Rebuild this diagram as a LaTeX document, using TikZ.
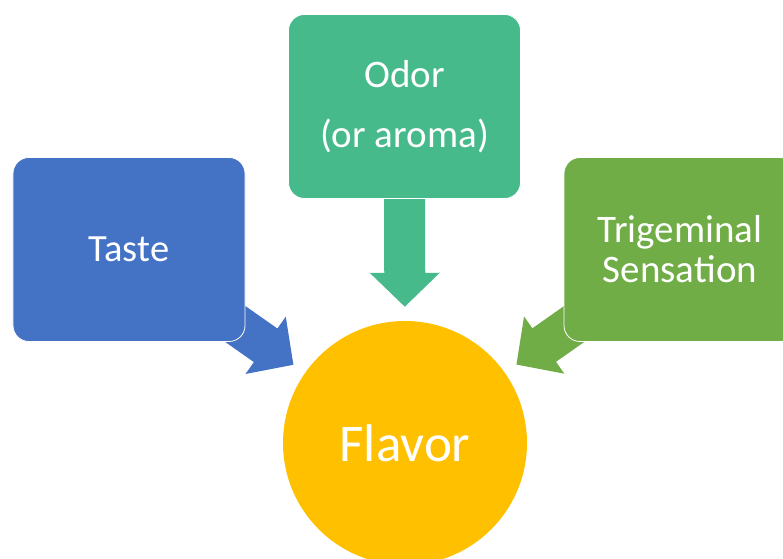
\documentclass[tikz,border=0pt]{standalone}
\usepackage{fontspec}
\setmainfont{Carlito}
\usetikzlibrary{arrows.meta,backgrounds}
\definecolor{tasteblue}{HTML}{4472C4}
\definecolor{odorgreen}{HTML}{47BA8C}
\definecolor{triggreen}{HTML}{70AD47}
\definecolor{flavoryellow}{HTML}{FFC000}
\begin{document}
\begin{tikzpicture}[x=1bp,y=-1bp,
    box/.style={draw=white,line width=0.8bp,rounded corners=16bp,minimum width=232bp,minimum height=184bp,
        inner sep=0pt,text=white,align=center,font=\fontsize{38.5bp}{40bp}\selectfont},
    blockarrow/.style={line width=41bp,-{Triangle[width=68bp,length=34bp]},shorten >=14bp}]
    \useasboundingbox (0,0) rectangle (783,559);
    \node[box,fill=tasteblue] (taste) at (129,249.5) {Taste};
    \node[box,fill=odorgreen,font=\fontsize{39bp}{60bp}\selectfont] (odor) at (404.5,106.5) {Odor\\(or aroma)};
    \node[box,fill=triggreen,font=\fontsize{39bp}{40bp}\selectfont] (trig) at (680,249.5) {Trigeminal\\Sensation};
    \node[circle,fill=flavoryellow,minimum size=244bp,inner sep=0pt,text=white,
        font=\fontsize{53bp}{53bp}\selectfont] (flavor) at (405,443) {Flavor};
    \begin{scope}[on background layer]
    \foreach \src/\col in {taste/tasteblue,odor/odorgreen,trig/triggreen}
        \draw[blockarrow,\col] (\src.center) -- (flavor);
    \end{scope}
\end{tikzpicture}
\end{document}
